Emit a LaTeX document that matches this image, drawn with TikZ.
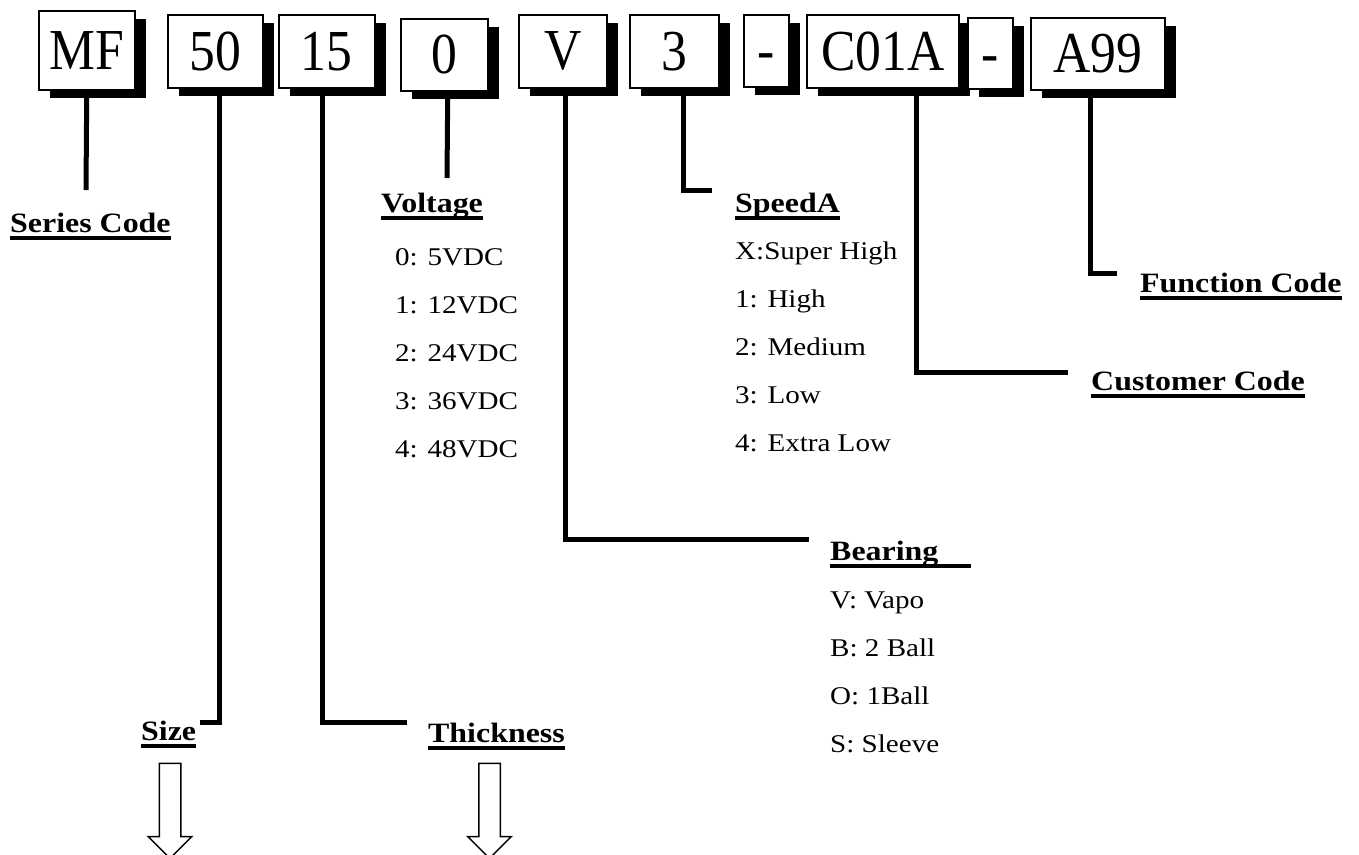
\documentclass[tikz,border=0pt]{standalone}
\usepackage{fontspec}
\setmainfont{Liberation Serif}
\newfontfamily\lblfont[FakeStretch=1.14]{Liberation Serif}
\newfontfamily\boxfont[FakeStretch=0.89]{Liberation Serif}
\usetikzlibrary{positioning,shadows,shapes.arrows}
\newcommand\ul[1]{\setbox0=\hbox{#1}\rlap{\copy0}\rule[-8pt]{\wd0}{4pt}}

\begin{document}
\begin{tikzpicture}[x=1pt, y=-1pt,
  box/.style={draw=black, line width=1.5pt, fill=white, inner sep=0pt, anchor=north west,
    minimum height=73pt, font=\boxfont\fontsize{58}{58}\selectfont,
    drop shadow={shadow xshift=11pt, shadow yshift=-8pt, fill=black, opacity=1}},
  lead/.style={line width=5pt},
  lbl/.style={inner sep=0pt, anchor=base west, font=\lblfont\bfseries\fontsize{28}{30}\selectfont},
  item/.style={inner sep=0pt, anchor=base west, font=\lblfont\fontsize{25.5}{28}\selectfont},
  hollow/.style={draw, line width=1.5pt, single arrow, rotate=-90, minimum height=95pt,
    inner sep=10pt, single arrow head extend=11pt}]
\useasboundingbox[fill=white] (0,0) rectangle (1359,854);
% code boxes
\node[box, minimum width=96pt, minimum height=79pt] (mf) at (38,10) {MF};
\node[box, minimum width=95pt] (sz) at (167,14) {50};
\node[box, minimum width=96pt] (th) at (278,14) {15};
\node[box, minimum width=87pt, minimum height=72pt] (volt) at (400,18) {0};
\node[box, minimum width=88pt] (brg) at (518,14) {V};
\node[box, minimum width=89pt] (spd) at (629,14) {3};
\node[box, minimum width=45pt, minimum height=72pt] (sepa) at (743,14) {\vphantom{0}-};
\node[box, minimum width=152pt] (cust) at (806,14) {C01A};
\node[box, minimum width=45pt, minimum height=71pt] (sepb) at (967,17) {\vphantom{0}-};
\node[box, minimum width=134pt, minimum height=72pt] (func) at (1030,17) {A99};
% headings
\node[lbl] (lseries) at (10,232) {\ul{Series Code}};
\node[lbl] (lsize) at (141,740) {\ul{Size}};
\node[lbl] (lthick) at (428,742) {\ul{Thickness}};
\node[lbl] (lvolt) at (381,212) {\ul{Voltage}};
\node[lbl] (lspeed) at (735,212) {\ul{SpeedA}};
\node[lbl] (lbear) at (830,560) {\ul{Bearing\hspace{33pt}}};
\node[lbl] (lcust) at (1091,390) {\ul{Customer Code}};
\node[lbl] (lfunc) at (1140,292) {\ul{Function Code}};
% option lists
\foreach \t [count=\i] in {0: 5VDC, 1: 12VDC, 2: 24VDC, 3: 36VDC, 4: 48VDC}
  \node[item] (volt\i) at (395,217+48*\i) {\t};
\foreach \t [count=\i] in {X:Super High, 1: High, 2: Medium, 3: Low, 4: Extra Low}
  \node[item] (spd\i) at (735,211+48*\i) {\t};
\foreach \t [count=\i] in {V: Vapo, B: 2 Ball, O: 1Ball, S: Sleeve}
  \node[item] (brg\i) at (830,560+48*\i) {\t};
% leads
\coordinate (mfend) at (86,190);
\coordinate (szend) at (200,722);
\coordinate (thend) at (407,722);
\coordinate (voltend) at (447,178);
\coordinate (brgend) at (809,539);
\coordinate (spdend) at (712,190);
\coordinate (custend) at (1068,372);
\coordinate (funcend) at (1117,273);
\draw[lead] (mf.south) -- (mfend);
\draw[lead] ([xshift=4.5pt]sz.south) |- (szend);
\draw[lead] ([xshift=-4pt]th.south) |- (thend);
\draw[lead] ([xshift=3.5pt]volt.south) -- (voltend);
\draw[lead] ([xshift=3pt]brg.south) |- (brgend);
\draw[lead] ([xshift=9.5pt]spd.south) |- (spdend);
\draw[lead] ([xshift=34pt]cust.south) |- (custend);
\draw[lead] ([xshift=-7pt]func.south) |- (funcend);
% down arrows
\node[hollow] (szdown) at (170,805.5) {};
\node[hollow] (thdown) at (489.5,805.5) {};
\end{tikzpicture}
\end{document}
